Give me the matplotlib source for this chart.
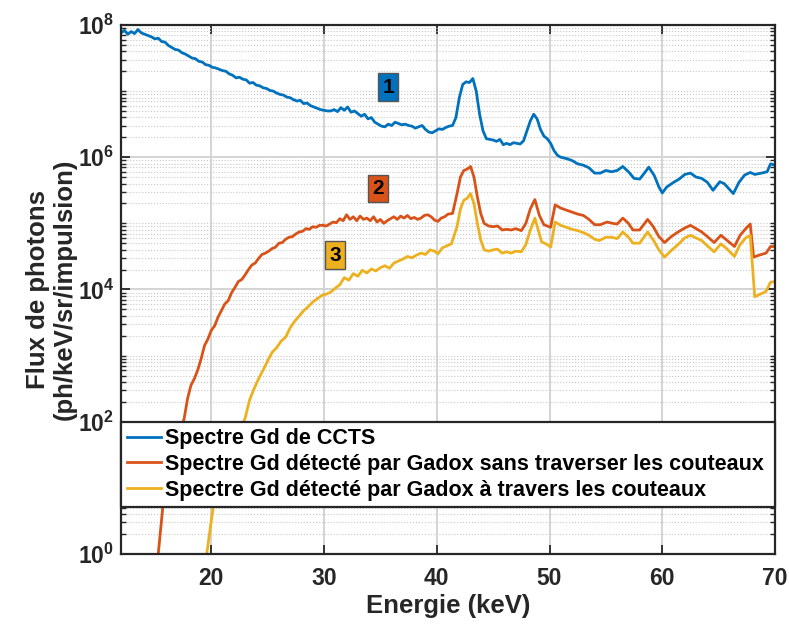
import numpy as np
import matplotlib
matplotlib.use("Agg")
import matplotlib.pyplot as plt
from matplotlib.ticker import FixedLocator, NullFormatter

# ---- data (energy in keV, flux as log10) ----
e_blue = [12.0, 12.3, 12.6, 12.9, 13.2, 13.5, 13.8, 14.1, 14.4, 14.7, 15.0, 15.3, 15.6, 15.9,
          16.2, 16.5, 16.8, 17.1, 17.4, 17.7, 18.0, 18.3, 18.6, 18.9, 19.2, 19.5, 19.8, 20.1,
          20.4, 20.7, 21.0, 21.3, 21.6, 21.9, 22.2, 22.5, 22.8, 23.1, 23.4, 23.7, 24.0, 24.3,
          24.6, 24.9, 25.2, 25.5, 25.8, 26.1, 26.4, 26.7, 27.0, 27.3, 27.6, 27.9, 28.2, 28.5,
          28.8, 29.1, 29.4, 29.7, 30.0, 30.3, 30.6, 30.9, 31.2, 31.5, 31.8, 32.1, 32.4, 32.7,
          33.0, 33.3, 33.6, 33.9, 34.2, 34.5, 34.8, 35.1, 35.4, 35.7, 36.0, 36.3, 36.6, 36.9,
          37.2, 37.5, 37.8, 38.1, 38.4, 38.7, 39.0, 39.3, 39.6, 39.9, 40.2, 40.5, 40.8, 41.1,
          41.4, 41.7, 42.0, 42.3, 42.6, 42.9, 43.2, 43.5, 43.8, 44.1, 44.4, 44.7, 45.0, 45.3,
          45.6, 45.9, 46.2, 46.5, 46.8, 47.1, 47.4, 47.7, 48.0, 48.3, 48.6, 48.9, 49.2, 49.5,
          49.8, 50.1, 50.4, 50.7, 51.0, 51.5, 52.0, 52.5, 53.0, 53.5, 54.0, 54.5, 55.0, 55.5,
          56.0, 56.5, 57.0, 57.5, 58.0, 58.5, 58.8, 59.3, 59.7, 60.0, 60.4, 61.0, 61.5, 62.0,
          62.5, 63.0, 63.5, 64.0, 64.5, 65.1, 65.5, 66.3, 66.8, 67.3, 67.8, 68.2, 68.8, 69.3,
          69.6, 70.0]
log_blue = [7.88, 7.92, 7.86, 7.90, 7.87, 7.93, 7.88, 7.86, 7.84, 7.82, 7.79, 7.80, 7.75, 7.74,
            7.69, 7.66, 7.63, 7.62, 7.58, 7.56, 7.53, 7.50, 7.49, 7.45, 7.44, 7.40, 7.39, 7.36,
            7.35, 7.33, 7.31, 7.30, 7.26, 7.24, 7.20, 7.21, 7.18, 7.17, 7.12, 7.13, 7.09, 7.08,
            7.05, 7.04, 7.01, 7.00, 6.97, 6.95, 6.94, 6.91, 6.90, 6.87, 6.85, 6.86, 6.81, 6.82,
            6.78, 6.76, 6.74, 6.72, 6.71, 6.70, 6.70, 6.72, 6.69, 6.75, 6.71, 6.76, 6.68, 6.70,
            6.66, 6.62, 6.65, 6.58, 6.60, 6.53, 6.50, 6.47, 6.46, 6.50, 6.48, 6.53, 6.51, 6.49,
            6.50, 6.48, 6.47, 6.44, 6.46, 6.48, 6.42, 6.38, 6.37, 6.40, 6.43, 6.42, 6.45, 6.47,
            6.48, 6.60, 6.90, 7.10, 7.14, 7.13, 7.19, 7.00, 6.65, 6.40, 6.28, 6.27, 6.26, 6.24,
            6.27, 6.19, 6.21, 6.19, 6.22, 6.21, 6.20, 6.25, 6.40, 6.55, 6.65, 6.58, 6.42, 6.32,
            6.28, 6.21, 6.10, 6.03, 6.00, 5.98, 5.95, 5.90, 5.88, 5.84, 5.76, 5.76, 5.80, 5.78,
            5.80, 5.86, 5.78, 5.68, 5.67, 5.78, 5.85, 5.72, 5.55, 5.46, 5.55, 5.62, 5.67, 5.74,
            5.76, 5.70, 5.68, 5.62, 5.50, 5.63, 5.60, 5.45, 5.62, 5.73, 5.77, 5.74, 5.76, 5.78,
            5.90, 5.88]

e_orange = [15.3, 15.7, 16.5, 17.2, 17.6, 17.9, 18.2, 18.5, 18.8, 19.1, 19.4, 19.7, 20.0, 20.3,
            20.6, 20.9, 21.2, 21.5, 21.8, 22.1, 22.4, 22.7, 23.0, 23.3, 23.6, 23.9, 24.2, 24.5,
            24.8, 25.1, 25.4, 25.7, 26.0, 26.3, 26.6, 26.9, 27.2, 27.5, 27.8, 28.1, 28.4, 28.7,
            29.0, 29.3, 29.6, 29.9, 30.2, 30.5, 30.8, 31.1, 31.4, 31.7, 32.0, 32.3, 32.6, 32.9,
            33.2, 33.5, 33.8, 34.1, 34.4, 34.7, 35.0, 35.3, 35.6, 35.9, 36.2, 36.5, 36.8, 37.1,
            37.4, 37.7, 38.0, 38.3, 38.6, 38.9, 39.2, 39.5, 39.8, 40.1, 40.4, 40.7, 41.0, 41.4,
            41.8, 42.1, 42.4, 42.7, 43.0, 43.3, 43.6, 43.9, 44.2, 44.6, 45.0, 45.4, 45.8, 46.2,
            46.6, 47.0, 47.5, 47.9, 48.3, 48.7, 49.1, 49.5, 50.1, 50.5, 51.0, 51.5, 52.0, 52.5,
            53.0, 53.5, 54.0, 54.5, 55.1, 55.6, 56.0, 56.5, 57.0, 57.4, 58.0, 58.7, 59.2, 59.7,
            60.2, 60.8, 61.4, 62.0, 62.5, 63.0, 63.5, 64.0, 64.6, 65.2, 65.7, 66.4, 66.9, 67.4,
            67.8, 68.1, 68.6, 69.2, 69.6, 70.0]
log_orange = [0.00, 0.70, 1.30, 1.80, 2.05, 2.35, 2.55, 2.65, 2.78, 2.95, 3.15, 3.25, 3.38, 3.45,
              3.58, 3.68, 3.78, 3.83, 3.95, 4.03, 4.12, 4.15, 4.22, 4.30, 4.37, 4.40, 4.47, 4.53,
              4.55, 4.58, 4.62, 4.64, 4.70, 4.71, 4.76, 4.79, 4.80, 4.84, 4.87, 4.88, 4.92, 4.91,
              4.95, 4.94, 4.97, 4.97, 4.96, 4.99, 5.02, 5.01, 5.07, 5.04, 5.13, 5.06, 5.10, 5.04,
              5.11, 5.06, 5.08, 5.04, 5.10, 5.02, 5.06, 5.00, 5.04, 5.07, 5.10, 5.06, 5.11, 5.08,
              5.12, 5.07, 5.09, 5.06, 5.08, 5.12, 5.13, 5.10, 5.05, 5.03, 5.08, 5.10, 5.14, 5.15,
              5.45, 5.70, 5.80, 5.82, 5.86, 5.70, 5.40, 5.15, 5.00, 4.96, 4.95, 4.96, 4.90, 4.91,
              4.90, 4.92, 4.89, 5.00, 5.22, 5.36, 5.12, 4.98, 4.94, 5.28, 5.23, 5.20, 5.17, 5.14,
              5.12, 5.06, 4.98, 4.98, 5.02, 5.00, 4.99, 5.08, 5.00, 4.90, 4.90, 5.06, 4.95, 4.80,
              4.71, 4.80, 4.87, 4.93, 4.97, 4.92, 4.87, 4.80, 4.71, 4.82, 4.75, 4.65, 4.82, 4.92,
              4.99, 4.49, 4.52, 4.55, 4.65, 4.65]

e_yellow = [19.6, 20.0, 20.6, 22.6, 23.0, 23.4, 23.8, 24.2, 24.6, 25.0, 25.4, 25.8, 26.2, 26.6,
            27.0, 27.4, 27.8, 28.2, 28.6, 29.0, 29.4, 29.8, 30.2, 30.6, 31.0, 31.4, 31.8, 32.2,
            32.6, 33.0, 33.4, 33.8, 34.2, 34.6, 35.0, 35.4, 35.8, 36.2, 36.6, 37.0, 37.4, 37.8,
            38.2, 38.6, 39.0, 39.4, 39.8, 40.1, 40.5, 40.9, 41.3, 41.8, 42.1, 42.4, 42.7, 43.0,
            43.3, 43.6, 43.9, 44.2, 44.6, 45.0, 45.4, 45.8, 46.2, 46.6, 47.0, 47.5, 47.9, 48.3,
            48.7, 49.0, 49.3, 49.8, 50.1, 50.5, 51.0, 51.5, 52.0, 52.5, 53.0, 53.5, 54.0, 54.4,
            55.0, 55.5, 56.0, 56.5, 57.0, 57.4, 58.0, 58.7, 59.2, 59.7, 60.2, 60.8, 61.4, 62.0,
            62.5, 63.0, 63.5, 64.0, 64.6, 65.2, 65.7, 66.4, 66.9, 67.4, 67.8, 68.2, 68.7, 69.2,
            69.6, 70.0]
log_yellow = [0.00, 0.50, 1.20, 1.90, 2.05, 2.33, 2.50, 2.65, 2.78, 2.92, 3.05, 3.12, 3.22, 3.28,
              3.42, 3.52, 3.60, 3.68, 3.74, 3.81, 3.86, 3.91, 3.93, 3.96, 4.02, 4.07, 4.18, 4.14,
              4.24, 4.20, 4.29, 4.25, 4.31, 4.28, 4.33, 4.36, 4.32, 4.40, 4.43, 4.46, 4.50, 4.48,
              4.52, 4.55, 4.53, 4.60, 4.58, 4.54, 4.63, 4.66, 4.69, 4.95, 5.22, 5.35, 5.38, 5.45,
              5.30, 5.00, 4.75, 4.60, 4.58, 4.60, 4.61, 4.55, 4.57, 4.55, 4.58, 4.57, 4.68, 4.90,
              5.08, 4.90, 4.72, 4.68, 4.64, 5.02, 4.97, 4.94, 4.91, 4.89, 4.86, 4.82, 4.76, 4.74,
              4.79, 4.79, 4.77, 4.87, 4.79, 4.70, 4.70, 4.87, 4.75, 4.60, 4.49, 4.59, 4.68, 4.78,
              4.82, 4.78, 4.74, 4.66, 4.57, 4.69, 4.62, 4.50, 4.68, 4.78, 4.82, 3.89, 3.93, 3.97,
              4.11, 4.12]

series_names = ["Spectre Gd de CCTS",
                "Spectre Gd détecté par Gadox sans traverser les couteaux",
                "Spectre Gd détecté par Gadox à travers les couteaux"]
colors = ["#0072BD", "#D95319", "#EDB120"]

# curve tags: (text, energy, log10 flux)
tags = [("1", 35.7, 7.06), ("2", 34.8, 5.53), ("3", 31.0, 4.52)]

plt.rcParams["font.family"] = ["Liberation Sans", "DejaVu Sans"]
plt.rcParams["font.weight"] = "bold"
plt.rcParams["mathtext.fontset"] = "custom"
plt.rcParams["mathtext.bf"] = "Liberation Sans:bold"
plt.rcParams["mathtext.rm"] = "Liberation Sans:bold"

dark = "#262626"
fig = plt.figure(figsize=(7.89, 6.26), dpi=100)
ax = fig.add_axes([0.1534, 0.1150, 0.8289, 0.8451])

for e, lg, c, name in zip([e_blue, e_orange, e_yellow], [log_blue, log_orange, log_yellow],
                          colors, series_names):
    ax.plot(e, 10.0 ** np.array(lg), color=c, linewidth=2.0, label=name)

ax.set_yscale("log")
ax.set_xlim(12, 70)
ax.set_ylim(1, 1e8)

ax.set_xticks([20, 30, 40, 50, 60, 70])
ax.set_yticks([1e0, 1e2, 1e4, 1e6, 1e8])
ax.set_yticklabels([r"$\mathbf{10^{%d}}$" % k for k in [0, 2, 4, 6, 8]])
minor = [m * 10.0 ** k for k in range(0, 8) for m in range(1, 10) if not (m == 1 and k % 2 == 0)]
ax.yaxis.set_minor_locator(FixedLocator(minor))
ax.yaxis.set_minor_formatter(NullFormatter())

ax.tick_params(axis="both", which="major", direction="in", length=6.5, width=1.3,
               labelsize=16.5, colors=dark, top=True, right=True)
ax.tick_params(axis="x", which="major", pad=9)
ax.tick_params(axis="y", which="major", pad=5)
ax.tick_params(axis="y", which="minor", direction="in", length=3.5, width=1.0,
               colors=dark, right=True)
ax.grid(True, which="major", color="#d4d4d4", linewidth=1.4)
ax.grid(True, which="minor", axis="y", color="#c8c8c8", linestyle=":", linewidth=0.8)
ax.set_axisbelow(True)
for s in ax.spines.values():
    s.set_linewidth(1.6)
    s.set_color(dark)

ax.set_xlabel("Energie (keV)", fontsize=18.5, fontweight="bold", color=dark, labelpad=3)
ax.set_ylabel("Flux de photons\n(ph/keV/sr/impulsion)", fontsize=18.5, fontweight="bold",
              color=dark, linespacing=1.12)
ax.yaxis.set_label_coords(-0.068, 0.5)

for (t, x, lg), c in zip(tags, colors):
    ax.text(x, 10.0 ** lg, t, ha="center", va="center", fontsize=15, fontweight="bold",
            color="black",
            bbox=dict(boxstyle="square,pad=0.2", facecolor=c, edgecolor="#555555", linewidth=1))

leg = ax.legend(loc="upper left", bbox_to_anchor=(0.0, 0.25, 1.0, 0.0), mode="expand",
                borderaxespad=0, fancybox=False, framealpha=1, edgecolor=dark,
                prop={"size": 15.5, "weight": "bold"}, handlelength=1.55, handletextpad=0.2,
                borderpad=0.3, labelspacing=0.22)
leg.get_frame().set_linewidth(1.6)

fig.savefig("out.png", dpi=100)
